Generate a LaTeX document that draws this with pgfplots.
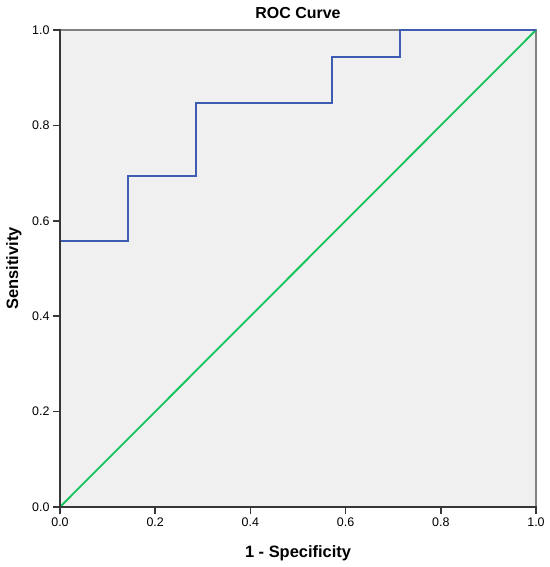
\documentclass[border=0pt]{standalone}
\usepackage{fontspec}
\setmainfont{Liberation Sans}
\usepackage{pgfplots}
\pgfplotsset{compat=1.18}
\definecolor{bgc}{RGB}{240,240,240}
\definecolor{rocblue}{RGB}{62,92,178}
\definecolor{refgreen}{RGB}{20,195,90}
\definecolor{axdark}{RGB}{55,55,55}
\definecolor{axgray}{RGB}{130,130,130}
\begin{document}
\begin{tikzpicture}[x=1bp,y=1bp]
\begin{axis}[
  at={(0,0)}, anchor=south west,
  scale only axis, width=476bp, height=477bp,
  xmin=0, xmax=1, ymin=0, ymax=1,
  xtick={0,0.2,...,1.0}, ytick={0,0.2,...,1.0},
  xtick pos=bottom, ytick pos=left,
  xtick align=outside, ytick align=outside,
  major tick length=7bp,
  tick style={color=axdark, line width=1.6bp},
  axis background/.style={fill=bgc},
  axis line style={draw=axgray, line width=1.5bp},
  /pgf/number format/assume math mode=true,
  /pgf/number format/.cd, fixed, fixed zerofill, precision=1, /pgfplots/.cd,
  ticklabel style={font=\fontsize{12.5}{13}\selectfont, text=black},
  title={ROC Curve},
  title style={font=\fontsize{16}{18}\bfseries, at={(0.5,1)}, anchor=center, yshift=11bp},
  xlabel={1 - Specificity},
  ylabel={Sensitivity},
  xlabel style={font=\fontsize{16.5}{18}\bfseries, at={(0.5,0)}, anchor=center, yshift=-46bp},
  ylabel style={font=\fontsize{16.5}{18}\bfseries, at={(0,0.5)}, anchor=center, yshift=46bp},
  clip=false,
]
\addplot[refgreen, line width=1.8bp] coordinates {(0,0) (1,1)};
\addplot[rocblue, line width=1.9bp] coordinates {
(0,0) (0,0.558) (0.1429,0.558) (0.1429,0.693) (0.2857,0.693)
(0.2857,0.847) (0.5714,0.847) (0.5714,0.944) (0.7143,0.944)
(0.7143,1) (1,1)};
\draw[axdark, line width=2bp, line cap=rect] (rel axis cs:0,1) -- (rel axis cs:0,0) -- (rel axis cs:1,0);
\pgfplotsinvokeforeach{0,0.2,0.4,0.6,0.8,1}{
  \draw[axdark, line width=1.6bp] (axis cs:#1,0) -- ++(0,-7bp);
  \draw[axdark, line width=1.6bp] (axis cs:0,#1) -- ++(-7bp,0);
}
\end{axis}
\path[use as bounding box] (-60,-60) rectangle (490,507);
\end{tikzpicture}
\end{document}
